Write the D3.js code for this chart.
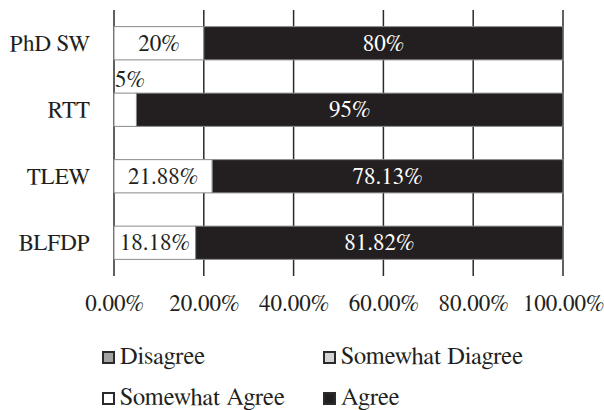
<!DOCTYPE html>
<html>
<head>
<meta charset="utf-8">
<script src="https://cdn.jsdelivr.net/npm/d3@7"></script>
<style>
  html, body { margin: 0; padding: 0; background: #fff; }
  svg { display: block; }
</style>
</head>
<body>
<svg id="chart" width="604" height="410"></svg>
<script>
// Survey responses per programme, in percent
const categories = ["PhD SW", "RTT", "TLEW", "BLFDP"];
const seriesNames = ["Disagree", "Somewhat Diagree", "Somewhat Agree", "Agree"];
const disagree = [0, 0, 0, 0];
const somewhatDisagree = [0, 0, 0, 0];
const somewhatAgree = [20, 5, 21.88, 18.18];
const agree = [80, 95, 78.13, 81.82];
const tickValues = [0, 20, 40, 60, 80, 100];

const seriesColors = ["#a3a3a3", "#d4d4d4", "#ffffff", "#231f20"];
const labelColors = ["#231f20", "#231f20", "#231f20", "#ffffff"];
const FONT = "FreeSerif, 'Liberation Serif', 'Times New Roman', serif";

const rows = categories.map((c, i) => ({
  category: c,
  "Disagree": disagree[i],
  "Somewhat Diagree": somewhatDisagree[i],
  "Somewhat Agree": somewhatAgree[i],
  "Agree": agree[i]
}));

const stacked = d3.stack().keys(seriesNames)(rows);

const svg = d3.select("#chart");
const margin = { left: 114, right: 41, top: 10, bottom: 134 };
const W = 604, H = 410;

const x = d3.scaleLinear().domain([0, 100]).range([margin.left, W - margin.right]);
const y = d3.scaleBand().domain(categories).range([margin.top, H - margin.bottom]).paddingInner(0.5).paddingOuter(0.25);

// vertical gridlines (including the value axis line at 0)
svg.append("g")
  .selectAll("line")
  .data(tickValues)
  .join("line")
  .attr("x1", d => x(d)).attr("x2", d => x(d))
  .attr("y1", margin.top).attr("y2", H - margin.bottom)
  .attr("stroke", "#2b2b2b")
  .attr("stroke-width", 1.5);

// stacked segments
const layers = svg.append("g")
  .selectAll("g")
  .data(stacked)
  .join("g")
  .attr("fill", (d, i) => seriesColors[i]);

layers.selectAll("rect")
  .data(d => d.filter(s => s[1] - s[0] > 0))
  .join("rect")
  .attr("x", d => x(d[0]))
  .attr("width", d => x(d[1]) - x(d[0]))
  .attr("y", d => y(d.data.category))
  .attr("height", y.bandwidth())
  .attr("stroke", "#8a8a8a")
  .attr("stroke-width", 1);

// value labels
const fontSize = 23;
stacked.forEach((layer, li) => {
  layer.forEach(seg => {
    const v = seg[1] - seg[0];
    if (v <= 0) return;
    const val = seg.data[layer.key];
    const x0 = x(seg[0]), x1 = x(seg[1]);
    const yTop = y(seg.data.category);
    const t = svg.append("text")
      .style("font-family", FONT)
      .attr("font-size", fontSize)
      .text(`${val}%`);
    const w = t.node().getComputedTextLength();
    if (w + 4 > x1 - x0) {
      // too narrow: place above the bar, left-aligned
      t.attr("x", x0 + 1)
        .attr("y", yTop - 6)
        .attr("fill", "#231f20");
    } else {
      t.attr("x", (x0 + x1) / 2)
        .attr("y", yTop + y.bandwidth() / 2)
        .attr("dy", "0.33em")
        .attr("text-anchor", "middle")
        .attr("fill", labelColors[li]);
    }
  });
});

// category labels
svg.append("g")
  .selectAll("text")
  .data(categories)
  .join("text")
  .style("font-family", FONT)
  .attr("x", margin.left - 24)
  .attr("y", d => y(d) + y.bandwidth() / 2)
  .attr("dy", "0.33em")
  .attr("text-anchor", "end")
  .attr("font-size", fontSize)
  .attr("fill", "#231f20")
  .text(d => d);

// value axis labels
const xAxis = d3.axisBottom(x)
  .tickValues(tickValues)
  .tickFormat(d => d3.format(".2f")(d) + "%")
  .tickSize(0)
  .tickPadding(0);
const ax = svg.append("g")
  .attr("transform", `translate(0, ${H - margin.bottom + 19})`)
  .call(xAxis);
ax.select(".domain").remove();
ax.selectAll("text")
  .style("font-family", FONT)
  .attr("font-size", fontSize)
  .attr("fill", "#231f20");

// legend: two columns, two rows
const legendPos = [
  { sx: 102, ty: 351 },
  { sx: 323, ty: 351 },
  { sx: 102, ty: 392 },
  { sx: 323, ty: 392 }
];
const legend = svg.append("g")
  .selectAll("g")
  .data(seriesNames)
  .join("g")
  .attr("transform", (d, i) => `translate(${legendPos[i].sx}, ${legendPos[i].ty})`);
legend.append("rect")
  .attr("x", 1).attr("y", 1)
  .attr("width", 11).attr("height", 11)
  .attr("fill", (d, i) => seriesColors[i])
  .attr("stroke", "#2b2b2b")
  .attr("stroke-width", 2);
legend.append("text")
  .style("font-family", FONT)
  .attr("x", 18)
  .attr("y", 13)
  .attr("font-size", 24.5)
  .attr("fill", "#231f20")
  .text(d => d);
</script>
</body>
</html>
